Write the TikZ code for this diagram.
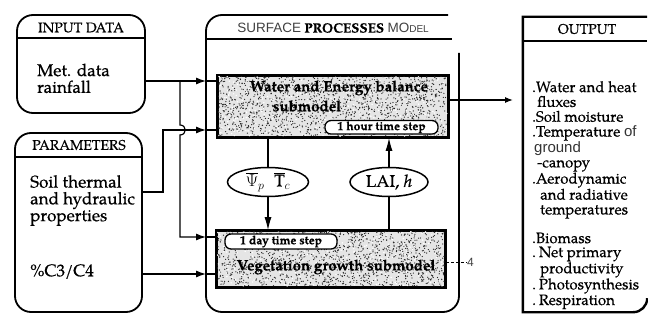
\documentclass[tikz,border=0pt]{standalone}
\usepackage{fontspec}
\setmainfont{TeX Gyre Pagella}[FakeBold=0.5]
\setsansfont{Liberation Sans}
\usetikzlibrary{arrows.meta,shapes.geometric,calc}
\begin{document}
\begin{tikzpicture}[x=1pt,y=-1pt,
  frame/.style={line width=1.8pt},
  panel/.style={draw, line width=1.8pt, rounded corners=16pt, inner sep=0pt},
  sub/.style={draw, line width=1.6pt, fill=black!10, inner sep=0pt},
  speck/.style={fill=black!85},
  tstep/.style={draw, line width=1.3pt, fill=white, rounded corners=6pt, inner sep=0pt, font=\fontsize{12}{12}\selectfont\bfseries},
  oval/.style={draw, ellipse, line width=1.5pt, fill=white, inner sep=0pt},
  conn/.style={line width=1.2pt},
  arr/.style={conn, -{Latex[length=10pt,width=7pt]}},
  varr/.style={conn, -{Latex[length=13pt,width=7pt]}},
  head/.style={font=\fontsize{14}{14}\selectfont, inner sep=0pt},
  body/.style={font=\fontsize{17}{16.8}\selectfont, align=left, inner sep=0pt, anchor=north west},
  otext/.style={font=\fontsize{15}{14.8}\selectfont, align=left, inner sep=0pt, anchor=north west},
  subtext/.style={font=\fontsize{15}{15}\selectfont\bfseries, inner sep=0pt},
]
\useasboundingbox (0,0) rectangle (648,323);
\pgfmathsetseed{11}

% ---------- left panels ----------
\node[panel, minimum width=128pt, minimum height=98pt] (inp) at (81,64) {};
\draw[frame] (inp.west |- 0,38) -- (inp.east |- 0,38);
\node[head] (inpT) at (81,27.5) {INPUT DATA};
\node[body] (met) at (37,63.5) {Met. data\\rainfall};

\node[panel, minimum width=127pt, minimum height=179pt] (par) at (78.5,222.5) {};
\draw[frame] (par.west |- 0,157) -- (par.east |- 0,157);
\node[head] (parT) at (79,145) {PARAMETERS};
\node[body] (soil) at (30,175) {Soil thermal\\and hydraulic\\properties};
\node[body] (c34) at (30,264) {\%C3/C4};

% ---------- surface processes model frame ----------
\coordinate (fl) at (206,0);
\draw[frame, rounded corners=16pt] (448,15) -- (206,15) -- (206,312) -- (459,312) -- (459,53);
\draw[frame] (206,39) -- (452,39);
\node[inner sep=0pt, font=\fontsize{13.5}{14}\selectfont] (spmT) at (333,28)
  {{\sffamily\color{black!75}SURFACE} {\bfseries PROCESSES} {\sffamily\color{black!75}MO{\fontsize{10}{10}\selectfont DEL}}};

% water and energy balance submodel
\node[sub, minimum width=230pt, minimum height=61pt] (wb) at (333,106.5) {};
\begin{scope}
  \clip (wb.north west) rectangle (wb.south east);
  \foreach \i in {1,...,1500} \fill[speck] ([shift={(rnd*230,rnd*61)}]wb.north west) circle[radius=0.65];
  \foreach \i in {1,...,350} \fill[white] ([shift={(rnd*230,rnd*61)}]wb.north west) circle[radius=0.8];
\end{scope}
\draw[line width=1.6pt] (wb.north west) rectangle (wb.south east);
\node[subtext] (wbT1) at (339,88) {Water and Energy balance};
\node[subtext] (wbT2) at (307,106) {submodel};
\node[tstep, minimum width=113pt, minimum height=13.5pt] (hour) at (381.5,127.3) {1 hour time step};

% vegetation growth submodel
\node[sub, minimum width=228pt, minimum height=56pt] (vg) at (331,259) {};
\begin{scope}
  \clip (vg.north west) rectangle (vg.south east);
  \foreach \i in {1,...,1400} \fill[speck] ([shift={(rnd*228,rnd*56)}]vg.north west) circle[radius=0.65];
  \foreach \i in {1,...,330} \fill[white] ([shift={(rnd*228,rnd*56)}]vg.north west) circle[radius=0.8];
\end{scope}
\draw[line width=1.6pt] (vg.north west) rectangle (vg.south east);
\node[tstep, minimum width=112pt, minimum height=15pt] (day) at (281,241.5) {1 day time step};
\node[subtext] (vgT) at (336,267) {Vegetation growth submodel};

% exchanged variables
\node[oval, minimum width=81pt, minimum height=29pt, font=\fontsize{17}{17}\selectfont] (psi) at (268,182)
  {$\overline{\Psi}_{p}\;\;\overline{\mathrm{T}}_{c}$};
\node[oval, minimum width=78pt, minimum height=29pt, font=\fontsize{17}{17}\selectfont] (lai) at (389,182)
  {LAI, \textit{h}};

\draw[conn] (wb.south -| psi) -- (psi.north);
\draw[varr] (psi.south) -- (vg.north -| psi);
\draw[conn] (vg.north -| lai) -- (lai.south);
\draw[varr] (lai.north) -- (wb.south -| lai);

% ---------- inputs to model ----------
\coordinate (y1) at (0,81);
\coordinate (y2) at (0,130);
\coordinate (y3) at (0,237);
\coordinate (y4) at (0,274);
\coordinate (y5) at (0,192);
\coordinate (j1) at (180,81);
\coordinate (j2) at (163,130);

\draw[arr] (inp.east |- y1) -- (fl |- y1);
\draw[conn] (fl |- y1) -- (wb.west |- y1);
\draw[arr] (j1) -- (j1 |- 0,125) .. controls (187,125) and (187,135) .. (j1 |- 0,135) -- (j1 |- y3) -- (fl |- y3);
\draw[conn] (fl |- y3) -- (vg.west |- y3);
\draw[arr] (par.east |- y5) -- (j2 |- y5) -- (j2) -- (fl |- y2);
\draw[conn] (fl |- y2) -- (wb.west |- y2);
\draw[arr] (par.east |- y4) -- (fl |- y4);
\draw[conn] (fl |- y4) -- (vg.west |- y4);

% ---------- output ----------
\node[inner sep=0pt, minimum width=124pt, minimum height=295pt] (out) at (585,164.5) {};
\draw[line width=2.4pt] (out.north east) -- (out.north west) -- (out.south west) -- ($(out.south east)+(-14,0)$) arc[start angle=90, end angle=0, radius=14];
\draw[line width=1.5pt] (out.west |- 0,41) -- (out.east |- 0,41);
\node[head] (outT) at (587,29) {OUTPUT};

\coordinate (oe) at (513,100);
\draw[conn, -{Latex[length=8pt,width=6pt]}] (wb.east |- oe) -- (oe);

\node[otext] (o1) at (532,81) {.Water and heat\\
\hspace*{5pt}fluxes\\
.Soil moisture\\
.Temperature {\sffamily\color{black!80}of}\\
\hspace*{2pt}{\sffamily\color{black!80}ground}\\
\hspace*{5pt}-canopy\\
.Aerodynamic\\
\hspace*{8pt}and radiative\\
\hspace*{8pt}temperatures};
\node[otext, font=\fontsize{15}{14}\selectfont] (o2) at (532,232.5) {.Biomass\\
.\hspace*{3pt}Net primary\\
\hspace*{8pt}productivity\\
.\hspace*{3pt}Photosynthesis\\
.\hspace*{3pt}Respiration};

% page mark
\node[font=\sffamily\fontsize{12}{12}\selectfont, text=black!75, inner sep=0pt, anchor=west] (pg) at (467,262) {4};
\draw[line width=0.6pt, dash pattern=on 3pt off 2pt] (vg.east |- pg) -- (pg.west);
\end{tikzpicture}
\end{document}
